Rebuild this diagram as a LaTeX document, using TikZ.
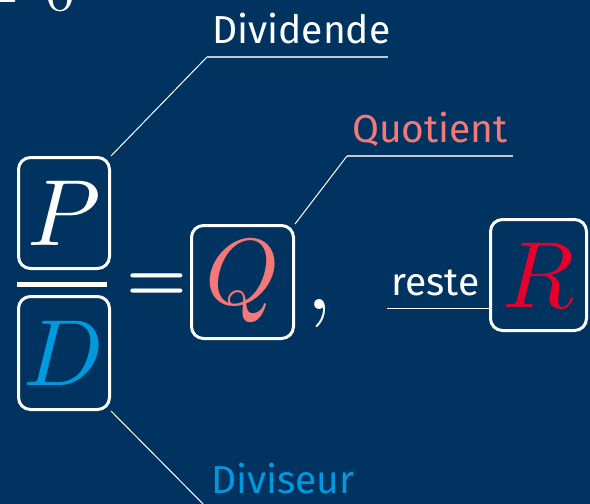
\documentclass[tikz,border=0pt]{standalone}
\DeclareFontFamily{OML}{cmm}{\skewchar\font127 }
\DeclareFontShape{OML}{cmm}{m}{it}{<->cmmi10}{}
\DeclareFontFamily{OT1}{cmr}{\hyphenchar\font45 }
\DeclareFontShape{OT1}{cmr}{m}{n}{<->cmr10}{}
\DeclareFontShape{OT1}{cmr}{bx}{n}{<->cmbx10}{}
\DeclareFontFamily{OMS}{cmsy}{\skewchar\font48 }
\DeclareFontShape{OMS}{cmsy}{m}{n}{<->cmsy10}{}
\usepackage{fontspec}
\newfontfamily\labelfont{Fira Sans}
\definecolor{bg}{RGB}{0,51,96}
\definecolor{salmon}{RGB}{245,120,120}
\definecolor{redR}{RGB}{228,0,43}
\definecolor{blueD}{RGB}{0,153,221}
\definecolor{lineg}{RGB}{190,200,215}
\tikzset{
  mbox/.style={draw=white, line width=3pt, rounded corners=12pt, inner sep=0pt,
    font=\fontsize{94}{94}\selectfont},
  lbl/.style={font=\labelfont\fontsize{39}{39}\selectfont, inner sep=0pt, anchor=base west},
  lead/.style={draw=white, line width=1pt},
  uline/.style={draw=lineg, line width=1.2pt},
  mtxt/.style={inner sep=0pt, text=white}
}
\begin{document}
\begin{tikzpicture}[x=1pt,y=-1pt]
\fill[bg] (0,0) rectangle (590,504);
\useasboundingbox (0,0) rectangle (590,504);
\clip (0,0) rectangle (590,504);

% cut-off text at top left
\node[mtxt, anchor=base west, font=\fontsize{60}{60}\selectfont] (neq) at (-28,10) {$\neq\,0$};

% boxes with letters
\node[mbox, minimum width=91pt, minimum height=111pt, text=white] (Pbox) at (64,213) {$P$};
\node[mbox, minimum width=91pt, minimum height=113pt, text=blueD] (Dbox) at (64,353) {$D$};
\node[mbox, minimum width=102pt, minimum height=113pt, text=salmon] (Qbox) at (242.5,282) {$Q$};
\node[mbox, minimum width=96pt, minimum height=111pt, text=redR] (Rbox) at (538.5,275) {$R$};

% fraction bar
\draw[white, line width=5pt] (17,284) -- (107,284);

% equals and comma
\node[mtxt, anchor=base, font=\fontsize{68}{68}\usefont{OT1}{cmr}{bx}{n}] (eq) at (157,300) {=};
\node[mtxt, anchor=base west, font=\fontsize{94}{94}\selectfont] (comma) at (306,309) {$,$};

% labels
\node[lbl, text=white] (dividende) at (212,43) {Dividende};
\node[lbl, text=salmon] (quotient) at (352,142) {Quotient};
\node[lbl, text=blueD] (diviseur) at (211,493) {Diviseur};
\node[lbl, text=white] (reste) at (391,295) {reste};

% leader coordinates
\coordinate (dvA) at (207,57);
\coordinate (dvB) at (388,57);
\coordinate (qtA) at (347,156);
\coordinate (qtB) at (513,156);
\coordinate (dsA) at (207,508);
\coordinate (dsB) at (362,508);
\coordinate (rsA) at (387,308);

% leaders
\draw[lead] (Pbox.north east) -- (dvA);
\draw[uline] (dvA) -- (dvB);
\draw[lead] (Qbox.north east) -- (qtA);
\draw[uline] (qtA) -- (qtB);
\draw[lead] (Dbox.south east) -- (dsA);
\draw[uline] (dsA) -- (dsB);
\draw[lead] (rsA) -- (rsA -| Rbox.west);
\end{tikzpicture}
\end{document}
